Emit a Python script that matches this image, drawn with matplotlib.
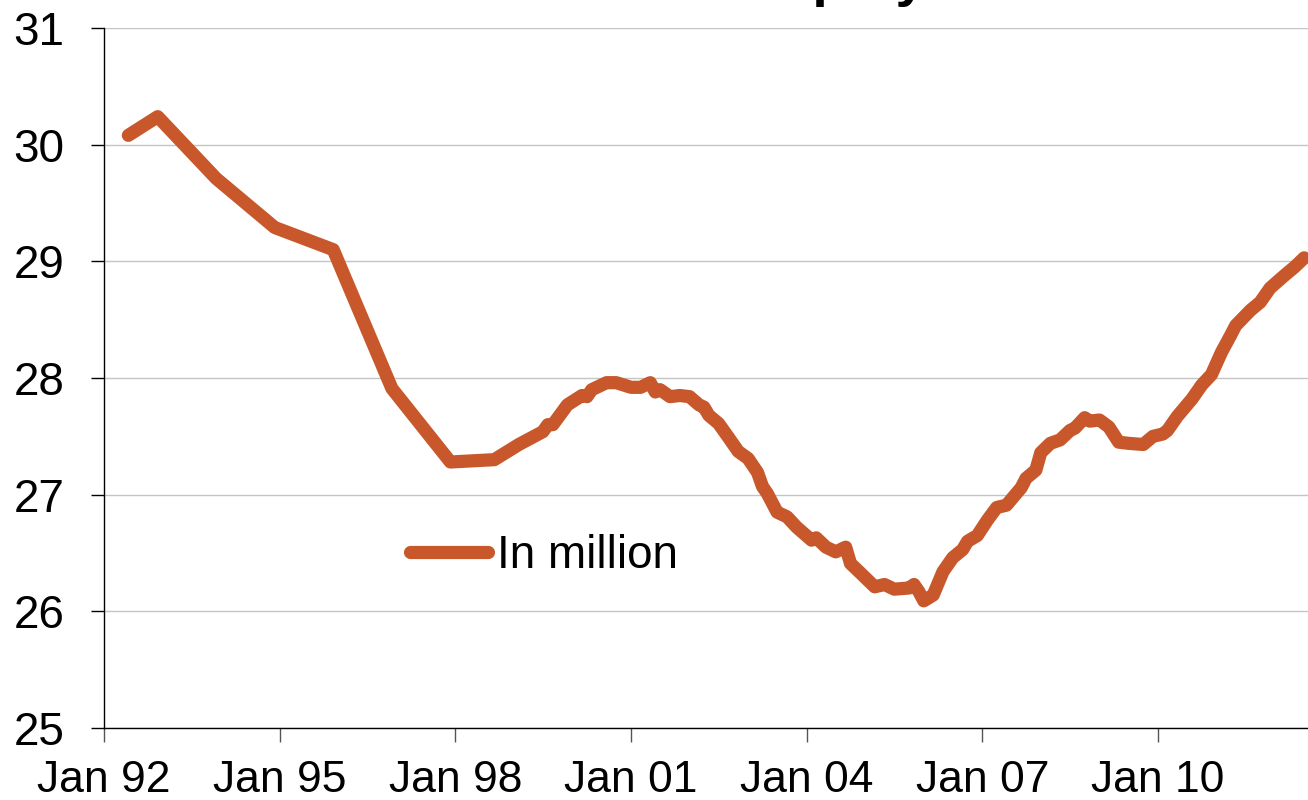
import matplotlib.pyplot as plt
import pandas as pd

# ============================================
# Employment, in million (monthly readings)
# ============================================

months = [
    "1992-06", "1992-12", "1993-12", "1994-12", "1995-12", "1996-12",
    "1997-12", "1998-09", "1999-02", "1999-07", "1999-08", "1999-09",
    "1999-12", "2000-03", "2000-04", "2000-05", "2000-08", "2000-10",
    "2001-01", "2001-03", "2001-05", "2001-06", "2001-07", "2001-09",
    "2001-11", "2002-01", "2002-03", "2002-04", "2002-05", "2002-07",
    "2002-09", "2002-11", "2003-01", "2003-03", "2003-04", "2003-05",
    "2003-07", "2003-09", "2003-11", "2004-02", "2004-03", "2004-05",
    "2004-07", "2004-09", "2004-10", "2004-12", "2005-03", "2005-05",
    "2005-07", "2005-10", "2005-11", "2005-12", "2006-01", "2006-03",
    "2006-05", "2006-07", "2006-09", "2006-10", "2006-12", "2007-02",
    "2007-04", "2007-06", "2007-09", "2007-10", "2007-12", "2008-01",
    "2008-03", "2008-05", "2008-07", "2008-08", "2008-10", "2008-11",
    "2009-01", "2009-03", "2009-05", "2009-07", "2009-10", "2009-12",
    "2010-02", "2010-03", "2010-05", "2010-08", "2010-10", "2010-12",
    "2011-02", "2011-04", "2011-05", "2011-08", "2011-10", "2011-12",
    "2012-03", "2012-05", "2012-06", "2012-07",
]

employment = [
    30.08, 30.24, 29.71, 29.29, 29.10, 27.91,
    27.28, 27.30, 27.43, 27.54, 27.60, 27.60,
    27.77, 27.85, 27.84, 27.90, 27.96, 27.96,
    27.92, 27.92, 27.96, 27.88, 27.90, 27.84,
    27.85, 27.84, 27.77, 27.75, 27.68, 27.61,
    27.49, 27.37, 27.31, 27.19, 27.07, 27.01,
    26.85, 26.81, 26.72, 26.61, 26.63, 26.55,
    26.51, 26.55, 26.41, 26.33, 26.21, 26.23,
    26.19, 26.20, 26.23, 26.17, 26.09, 26.14,
    26.34, 26.46, 26.53, 26.60, 26.65, 26.78,
    26.89, 26.91, 27.06, 27.14, 27.21, 27.36,
    27.44, 27.47, 27.55, 27.57, 27.66, 27.63,
    27.64, 27.58, 27.45, 27.44, 27.43, 27.50,
    27.52, 27.55, 27.67, 27.82, 27.94, 28.03,
    28.22, 28.37, 28.45, 28.58, 28.65, 28.77,
    28.88, 28.95, 28.99, 29.03,
]

tick_years = [1992, 1995, 1998, 2001, 2004, 2007, 2010]
tick_labels = ["Jan 92", "Jan 95", "Jan 98", "Jan 01",
               "Jan 04", "Jan 07", "Jan 10"]

series_label = "In million"
title_text = "Employment"

line_color = "#C8582C"

plt.rcParams["font.family"] = ["Liberation Sans", "DejaVu Sans"]

dates = pd.to_datetime(months)

fig = plt.figure(figsize=(13.08, 8.0), dpi=100)
ax = fig.add_axes([104 / 1308, 72 / 800, 1204 / 1308, 700 / 800])

ax.plot(
    dates,
    employment,
    color=line_color,
    linewidth=9.5,
    solid_capstyle="round",
    solid_joinstyle="round",
    label=series_label,
)

ax.set_ylim(25, 31)
ax.set_yticks(range(25, 32))
ax.set_xlim(pd.Timestamp("1992-01-01"), pd.Timestamp("2012-07-25"))

tick_dates = [pd.Timestamp(f"{y}-01-01") for y in tick_years]
ax.set_xticks(tick_dates)
ax.set_xticklabels(tick_labels)

ax.grid(axis="y", color="#C4C4C4", linewidth=1.0)
ax.set_axisbelow(True)

for side in ["top", "right"]:
    ax.spines[side].set_visible(False)
for side in ["left", "bottom"]:
    ax.spines[side].set_color("black")
    ax.spines[side].set_linewidth(1.0)

ax.tick_params(axis="y", length=9.5, width=1.0, pad=19, labelsize=33)
ax.tick_params(axis="x", length=10, width=1.0, pad=13, labelsize=32,
               color="#555555")

ax.legend(
    loc="center left",
    bbox_to_anchor=(0.254, 0.245),
    frameon=False,
    fontsize=33,
    handlelength=1.7,
    handletextpad=0.2,
    borderpad=0,
    borderaxespad=0,
)

# title sits mostly above the visible canvas, only descenders show
fig.text(
    726 / 1308,
    1 + 5 / 800,
    title_text,
    fontsize=40,
    fontweight="bold",
    ha="left",
    va="baseline",
)

fig.savefig("out.png", dpi=100)
plt.close(fig)
